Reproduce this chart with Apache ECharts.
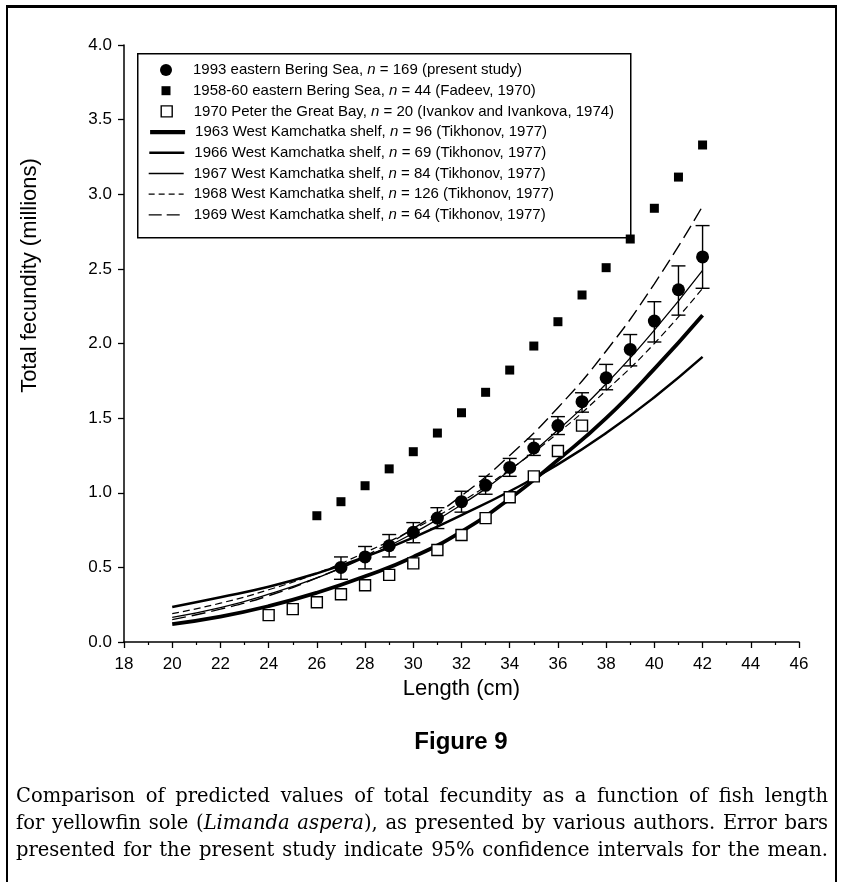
<!DOCTYPE html>
<html>
<head>
<meta charset="utf-8">
<script src="https://cdn.jsdelivr.net/npm/echarts@6/dist/echarts.min.js"></script>
<style>
  html, body { margin:0; padding:0; background:#fff; }
  #chart { position:absolute; left:0; top:0; width:843px; height:882px; }
  #frame { position:absolute; left:6px; top:5px; width:827px; height:900px;
           border-top:3px solid #000; border-left:2px solid #000; border-right:2px solid #000; }
  #figtitle { position:absolute; left:0; width:922px; top:727px; text-align:center;
              font-family:"Liberation Sans", Arial, sans-serif; font-weight:bold; font-size:24px; color:#000; }
  #caption { position:absolute; left:16px; width:812px; top:782px;
             font-family:"DejaVu Serif", serif; font-size:19.5px; line-height:27px; color:#000; }
  #caption div { text-align:justify; text-align-last:justify; white-space:nowrap; }
</style>
</head>
<body>
<div id="chart"></div>
<div id="frame"></div>
<div id="figtitle">Figure 9</div>
<div id="caption">
  <div>Comparison of predicted values of total fecundity as a function of fish length</div>
  <div>for yellowfin sole (<i>Limanda aspera</i>), as presented by various authors. Error bars</div>
  <div>presented for the present study indicate 95% confidence intervals for the mean.</div>
</div>
<script>
// ---------- data ----------
const xTicks = [18,20,22,24,26,28,30,32,34,36,38,40,42,44,46];
const yTicks = [0.0,0.5,1.0,1.5,2.0,2.5,3.0,3.5,4.0];

const lengthsPresent = [27,28,29,30,31,32,33,34,35,36,37,38,39,40,41,42];
const meanPresent  = [0.50,0.57,0.645,0.735,0.83,0.94,1.05,1.17,1.30,1.45,1.61,1.77,1.96,2.15,2.36,2.58];
const upperPresent = [0.57,0.64,0.72,0.80,0.90,1.01,1.11,1.23,1.36,1.51,1.67,1.86,2.06,2.28,2.52,2.79];
const lowerPresent = [0.42,0.49,0.57,0.665,0.76,0.87,0.99,1.11,1.25,1.39,1.54,1.69,1.85,2.01,2.19,2.37];

const lengthsFadeev = [26,27,28,29,30,31,32,33,34,35,36,37,38,39,40,41,42];
const fecFadeev = [0.846,0.94,1.047,1.16,1.275,1.40,1.536,1.673,1.822,1.983,2.146,2.325,2.508,2.70,2.906,3.115,3.33];

const lengthsPeter = [24,25,26,27,28,29,30,31,32,33,34,35,36,37];
const fecPeter = [0.18,0.22,0.266,0.32,0.38,0.45,0.527,0.616,0.717,0.83,0.97,1.11,1.28,1.45];

const lengthsCurve = [20,22,24,26,28,30,32,34,36,38,40,42];
const fec1963 = [0.12,0.17,0.24,0.33,0.44,0.57,0.74,0.96,1.22,1.50,1.83,2.19];
const fec1966 = [0.235,0.30,0.37,0.46,0.57,0.70,0.85,1.01,1.19,1.40,1.64,1.91];
const fec1967 = [0.165,0.23,0.32,0.43,0.565,0.73,0.92,1.15,1.42,1.73,2.09,2.49];
const fec1968 = [0.19,0.26,0.35,0.46,0.60,0.755,0.94,1.155,1.40,1.685,2.00,2.37];
const fec1969 = [0.15,0.22,0.31,0.43,0.575,0.76,0.98,1.25,1.57,1.95,2.40,2.92];

const seriesNames = [
  '1993 eastern Bering Sea, n = 169 (present study)',
  '1958-60 eastern Bering Sea, n = 44 (Fadeev, 1970)',
  '1970 Peter the Great Bay, n = 20 (Ivankov and Ivankova, 1974)',
  '1963 West Kamchatka shelf, n = 96 (Tikhonov, 1977)',
  '1966 West Kamchatka shelf, n = 69 (Tikhonov, 1977)',
  '1967 West Kamchatka shelf, n = 84 (Tikhonov, 1977)',
  '1968 West Kamchatka shelf, n = 126 (Tikhonov, 1977)',
  '1969 West Kamchatka shelf, n = 64 (Tikhonov, 1977)'
];
const xTitle = 'Length (cm)';
const yTitle = 'Total fecundity (millions)';

// ---------- build ----------
const pairs = (xs, ys) => xs.map((x, i) => [x, ys[i]]);
const FONT = '"Liberation Sans", Arial, Helvetica, sans-serif';

const lineDefs = [
  { name: seriesNames[3], data: fec1963, width: 3.8, type: 'solid', lw: 4.2, lt: 'solid' },
  { name: seriesNames[4], data: fec1966, width: 2.5, type: 'solid', lw: 2.6, lt: 'solid' },
  { name: seriesNames[5], data: fec1967, width: 1.3, type: 'solid', lw: 1.4, lt: 'solid' },
  { name: seriesNames[6], data: fec1968, width: 1.2, type: [7, 4], lw: 1.3, lt: [6, 4] },
  { name: seriesNames[7], data: fec1969, width: 1.4, type: [14, 6], lw: 1.4, lt: [13, 5] }
];

const series = [];
lineDefs.forEach(d => {
  series.push({
    name: d.name, type: 'line', smooth: true, symbol: 'none',
    data: pairs(lengthsCurve, d.data),
    lineStyle: { color: '#000', width: d.width, type: d.type },
    itemStyle: { color: '#000' }, z: 2
  });
});
series.push({
  name: 'errorbars', type: 'custom',
  data: lengthsPresent.map((x, i) => [x, lowerPresent[i], upperPresent[i]]),
  encode: { x: 0, y: [1, 2] }, z: 3,
  renderItem: function (params, api) {
    const x = api.value(0), lo = api.value(1), hi = api.value(2);
    const a = api.coord([x, hi]), b = api.coord([x, lo]);
    const hw = 7, st = { stroke: '#000', lineWidth: 1.4 };
    return { type: 'group', children: [
      { type: 'line', shape: { x1: a[0], y1: a[1], x2: b[0], y2: b[1] }, style: st },
      { type: 'line', shape: { x1: a[0] - hw, y1: a[1], x2: a[0] + hw, y2: a[1] }, style: st },
      { type: 'line', shape: { x1: b[0] - hw, y1: b[1], x2: b[0] + hw, y2: b[1] }, style: st }
    ]};
  }
});
series.push({
  name: seriesNames[0], type: 'scatter', symbol: 'circle', symbolSize: 13,
  data: pairs(lengthsPresent, meanPresent), itemStyle: { color: '#000', opacity: 1 }, z: 4
});
series.push({
  name: seriesNames[1], type: 'scatter', symbol: 'rect', symbolSize: 9,
  data: pairs(lengthsFadeev, fecFadeev), itemStyle: { color: '#000', opacity: 1 }, z: 4
});
series.push({
  name: seriesNames[2], type: 'scatter', symbol: 'rect', symbolSize: 11,
  data: pairs(lengthsPeter, fecPeter),
  itemStyle: { color: '#fff', borderColor: '#000', borderWidth: 1.4, opacity: 1 }, z: 4
});

// legend rows: icon box [left, width, height]
const rowTop0 = 60, rowStep = 20.7, textX = 193;
const iconBox = [[160, 12, 12], [161.5, 9, 9], [160.5, 11, 11],
                 [148, 35, 14], [148, 35, 14], [148, 35, 14], [148, 35, 14], [148, 35, 14]];
const legends = seriesNames.map((nm, i) => {
  const [lx, w, h] = iconBox[i];
  const pad = textX - (lx + w + 5);
  const lg = {
    show: true, left: lx, top: rowTop0 + i * rowStep, orient: 'horizontal',
    padding: 0, itemGap: 0, itemWidth: w, itemHeight: h,
    selectedMode: false, data: [nm],
    formatter: n => n.replace(', n = ', ', {i|n} = '),
    textStyle: {
      color: '#000', fontFamily: FONT, fontSize: 15, lineHeight: 20, padding: [0, 0, 0, pad],
      rich: { i: { fontStyle: 'italic', fontFamily: FONT, fontSize: 15, lineHeight: 20, color: '#000' } }
    }
  };
  if (i >= 3) {
    const d = lineDefs[i - 3];
    lg.itemStyle = { color: 'rgba(0,0,0,0)', borderWidth: 0, opacity: 0 };
    lg.lineStyle = { color: '#000', width: d.lw, type: d.lt };
  }
  if (i === 2) lg.itemStyle = { color: '#fff', borderColor: '#000', borderWidth: 1.4 };
  if (i < 2) lg.itemStyle = { color: '#000', borderWidth: 0 };
  return lg;
});

const chart = echarts.init(document.getElementById('chart'), null, { renderer: 'canvas' });
chart.setOption({
  animation: false,
  backgroundColor: '#fff',
  grid: { left: 124, right: 44, top: 45, bottom: 240, containLabel: false },
  xAxis: {
    type: 'value', min: xTicks[0], max: xTicks[xTicks.length - 1], interval: 2,
    name: xTitle, nameLocation: 'middle', nameGap: 30,
    nameTextStyle: { fontFamily: FONT, fontSize: 22, color: '#000' },
    axisLine: { onZero: false, lineStyle: { color: '#000', width: 1.5 } },
    axisTick: { show: true, length: 6, lineStyle: { color: '#000', width: 1.3 } },
    minorTick: { show: true, splitNumber: 2, length: 3, lineStyle: { color: '#000', width: 1.2 } },
    axisLabel: { fontFamily: FONT, fontSize: 17, color: '#000', margin: 14 },
    splitLine: { show: false }
  },
  yAxis: {
    type: 'value', min: yTicks[0], max: yTicks[yTicks.length - 1], interval: 0.5,
    name: yTitle, nameLocation: 'middle', nameGap: 83, nameRotate: 90,
    nameTextStyle: { fontFamily: FONT, fontSize: 22, color: '#000', padding: [0, 0, 0, 136] },
    axisLine: { onZero: false, lineStyle: { color: '#000', width: 1.5 } },
    axisTick: { show: true, length: 6, lineStyle: { color: '#000', width: 1.3 } },
    axisLabel: { fontFamily: FONT, fontSize: 17, color: '#000', margin: 12,
                 formatter: v => v.toFixed(1) },
    splitLine: { show: false }
  },
  legend: legends,
  graphic: [{
    type: 'rect', left: 137, top: 53, z: 0, silent: true,
    shape: { width: 493, height: 184 },
    style: { fill: '#fff', stroke: '#000', lineWidth: 1.5 }
  }],
  series: series
});
</script>
</body>
</html>
